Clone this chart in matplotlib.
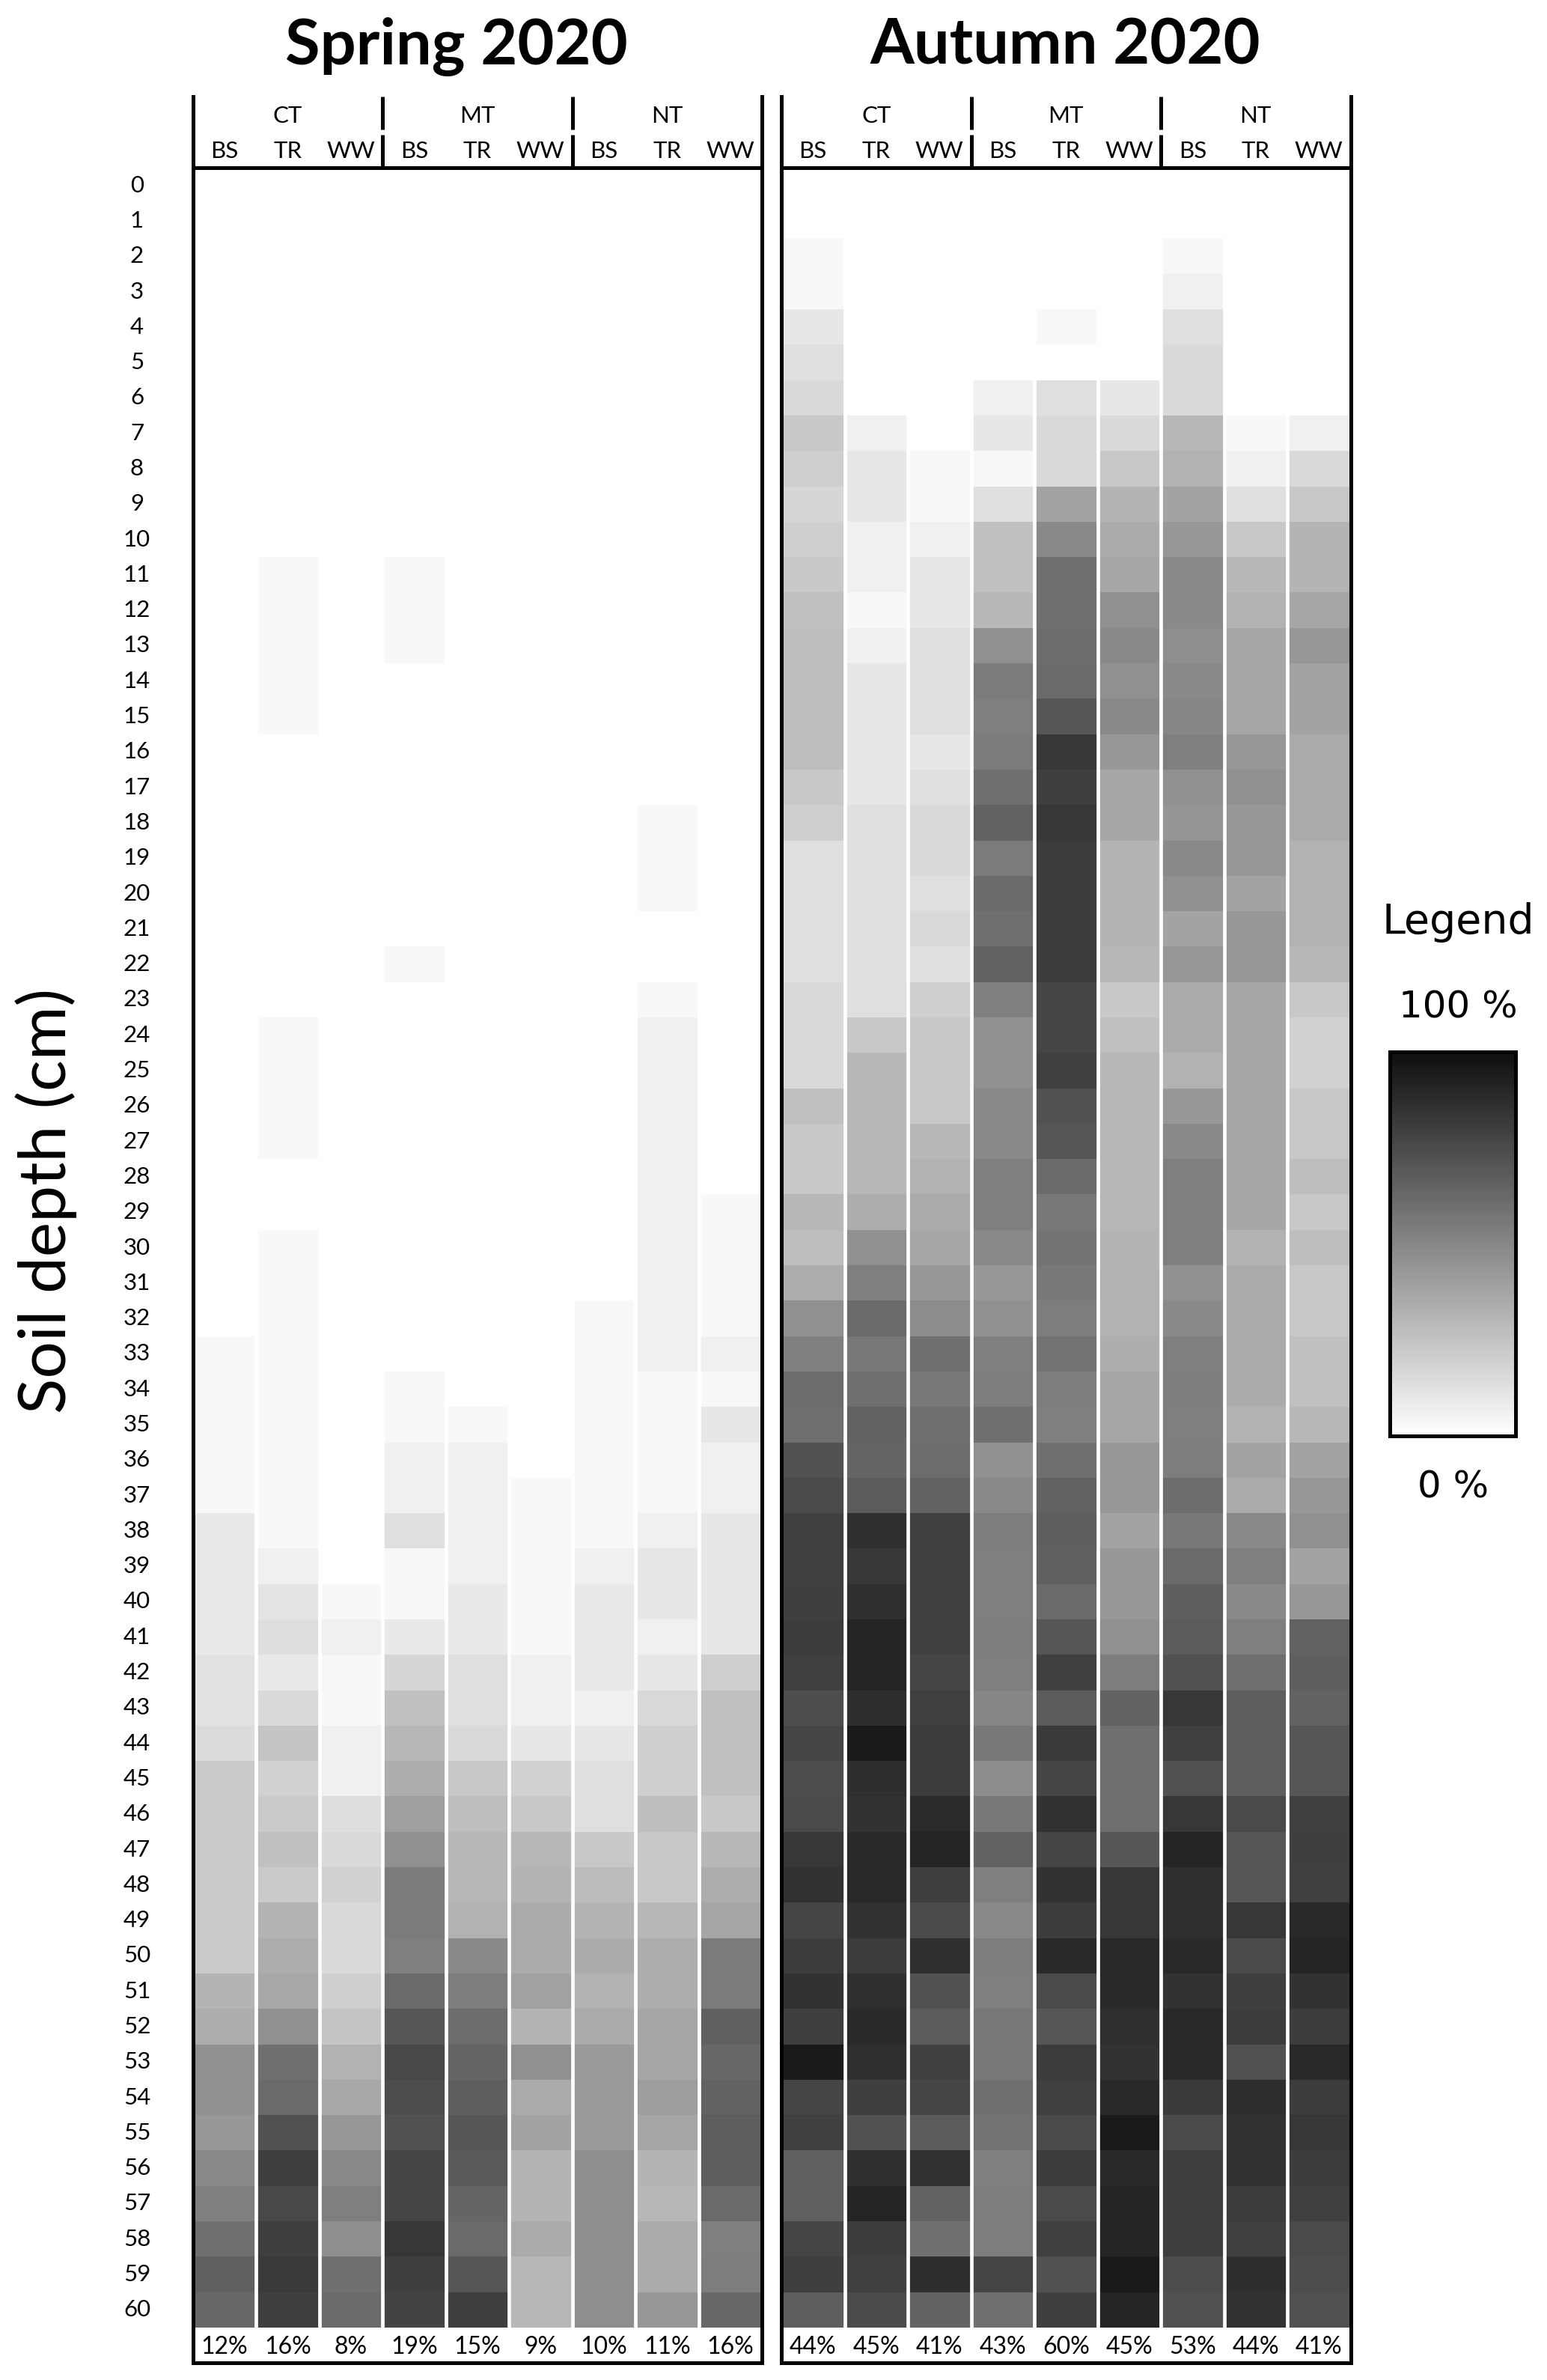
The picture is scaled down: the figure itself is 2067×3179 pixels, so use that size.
"""
Soil profile heatmaps, Spring vs Autumn 2020 (depth 0-60 cm).
Writes out.png (2067 x 3179 px).
"""

import matplotlib
matplotlib.use("Agg")
import matplotlib.pyplot as plt
import numpy as np
from matplotlib.colors import LinearSegmentedColormap

# ---------------------------------------------------------------------------
# Data (% per 1 cm layer, depth 0..60), one list per column
# ---------------------------------------------------------------------------

depths = list(range(61))
treatments = ["CT", "MT", "NT"]
positions = ["BS", "TR", "WW"]

# Spring 2020
sp_ct_bs = [0, 0, 0, 0, 0, 0, 0, 0, 0, 0,
            0, 0, 0, 0, 0, 0, 0, 0, 0, 0,
            0, 0, 0, 0, 0, 0, 0, 0, 0, 0,
            0, 0, 0, 3, 3, 3, 3, 3, 9, 9,
            9, 9, 12, 12, 15, 22, 22, 22, 22, 22,
            22, 31, 34, 46, 46, 43, 49, 53, 60, 66,
            63]
sp_ct_tr = [0, 0, 0, 0, 0, 0, 0, 0, 0, 0,
            0, 3, 3, 3, 3, 3, 0, 0, 0, 0,
            0, 0, 0, 0, 3, 3, 3, 3, 0, 0,
            3, 3, 3, 3, 3, 3, 3, 3, 3, 6,
            11, 14, 9, 16, 24, 19, 22, 26, 22, 31,
            34, 36, 46, 60, 62, 72, 80, 76, 80, 82,
            80]
sp_ct_ww = [0, 0, 0, 0, 0, 0, 0, 0, 0, 0,
            0, 0, 0, 0, 0, 0, 0, 0, 0, 0,
            0, 0, 0, 0, 0, 0, 0, 0, 0, 0,
            0, 0, 0, 0, 0, 0, 0, 0, 0, 0,
            3, 6, 3, 3, 6, 6, 14, 16, 19, 16,
            16, 20, 24, 32, 36, 43, 49, 53, 47, 60,
            62]
sp_mt_bs = [0, 0, 0, 0, 0, 0, 0, 0, 0, 0,
            0, 3, 3, 3, 0, 0, 0, 0, 0, 0,
            0, 0, 3, 0, 0, 0, 0, 0, 0, 0,
            0, 0, 0, 0, 3, 3, 6, 6, 13, 3,
            3, 9, 17, 26, 30, 34, 40, 46, 55, 55,
            53, 62, 70, 76, 74, 72, 77, 77, 83, 80,
            78]
sp_mt_tr = [0, 0, 0, 0, 0, 0, 0, 0, 0, 0,
            0, 0, 0, 0, 0, 0, 0, 0, 0, 0,
            0, 0, 0, 0, 0, 0, 0, 0, 0, 0,
            0, 0, 0, 0, 0, 3, 6, 6, 6, 6,
            9, 9, 13, 13, 16, 23, 27, 30, 30, 32,
            49, 54, 61, 64, 67, 70, 69, 64, 62, 70,
            80]
sp_mt_ww = [0, 0, 0, 0, 0, 0, 0, 0, 0, 0,
            0, 0, 0, 0, 0, 0, 0, 0, 0, 0,
            0, 0, 0, 0, 0, 0, 0, 0, 0, 0,
            0, 0, 0, 0, 0, 0, 0, 3, 3, 3,
            3, 3, 6, 6, 10, 19, 23, 30, 31, 35,
            35, 39, 31, 46, 35, 38, 31, 31, 35, 30,
            30]
sp_nt_bs = [0, 0, 0, 0, 0, 0, 0, 0, 0, 0,
            0, 0, 0, 0, 0, 0, 0, 0, 0, 0,
            0, 0, 0, 0, 0, 0, 0, 0, 0, 0,
            0, 0, 3, 3, 3, 3, 3, 3, 3, 6,
            9, 9, 9, 6, 10, 13, 13, 23, 28, 31,
            35, 32, 35, 42, 42, 42, 47, 47, 47, 47,
            47]
sp_nt_tr = [0, 0, 0, 0, 0, 0, 0, 0, 0, 0,
            0, 0, 0, 0, 0, 0, 0, 0, 3, 3,
            3, 0, 0, 3, 6, 6, 6, 6, 6, 6,
            6, 6, 6, 6, 3, 3, 3, 3, 6, 10,
            10, 6, 10, 16, 20, 20, 27, 23, 23, 30,
            34, 34, 37, 37, 41, 37, 31, 30, 35, 35,
            43]
sp_nt_ww = [0, 0, 0, 0, 0, 0, 0, 0, 0, 0,
            0, 0, 0, 0, 0, 0, 0, 0, 0, 0,
            0, 0, 0, 0, 0, 0, 0, 0, 0, 3,
            3, 3, 3, 6, 3, 10, 6, 6, 10, 10,
            10, 10, 20, 26, 26, 26, 23, 30, 34, 37,
            55, 55, 66, 63, 65, 67, 67, 62, 53, 54,
            63]

# Autumn 2020
au_ct_bs = [0, 0, 3, 3, 10, 13, 16, 23, 20, 17,
            20, 23, 26, 27, 27, 27, 27, 23, 20, 13,
            13, 13, 13, 16, 16, 16, 26, 23, 23, 30,
            27, 34, 46, 53, 61, 60, 72, 75, 79, 79,
            80, 81, 79, 74, 77, 74, 75, 83, 85, 77,
            81, 85, 80, 95, 77, 79, 66, 66, 77, 80,
            67]
au_ct_tr = [0, 0, 0, 0, 0, 0, 0, 6, 10, 10,
            6, 6, 3, 6, 10, 10, 10, 10, 13, 13,
            13, 13, 13, 13, 23, 30, 30, 30, 30, 34,
            46, 53, 62, 56, 60, 65, 64, 68, 86, 83,
            86, 91, 91, 87, 95, 87, 85, 89, 89, 85,
            81, 86, 89, 86, 80, 72, 86, 91, 81, 79,
            75]
au_ct_ww = [0, 0, 0, 0, 0, 0, 0, 0, 3, 3,
            6, 10, 10, 13, 13, 13, 10, 13, 16, 16,
            13, 16, 13, 20, 23, 23, 23, 30, 32, 35,
            37, 43, 48, 60, 56, 60, 61, 65, 79, 79,
            79, 79, 77, 79, 81, 81, 88, 91, 80, 75,
            86, 72, 68, 79, 77, 68, 85, 65, 60, 87,
            65]
au_mt_bs = [0, 0, 0, 0, 0, 0, 6, 10, 3, 13,
            26, 26, 30, 46, 55, 53, 55, 60, 65, 55,
            62, 60, 65, 53, 46, 46, 49, 49, 53, 53,
            49, 43, 46, 53, 54, 60, 46, 49, 54, 53,
            53, 54, 53, 50, 56, 48, 56, 65, 53, 49,
            54, 53, 56, 56, 60, 58, 53, 54, 54, 77,
            60]
au_mt_tr = [0, 0, 0, 0, 3, 0, 13, 16, 16, 38,
            49, 60, 60, 61, 62, 70, 83, 80, 83, 81,
            81, 81, 81, 77, 77, 79, 72, 70, 62, 56,
            58, 56, 54, 58, 54, 53, 60, 65, 67, 66,
            62, 70, 79, 68, 82, 77, 85, 77, 85, 81,
            89, 75, 70, 81, 79, 75, 81, 75, 79, 72,
            80]
au_mt_ww = [0, 0, 0, 0, 0, 0, 10, 16, 23, 31,
            35, 37, 46, 49, 46, 49, 43, 37, 37, 31,
            31, 31, 30, 23, 26, 30, 30, 30, 30, 30,
            31, 32, 32, 34, 37, 37, 43, 43, 38, 43,
            43, 46, 54, 65, 60, 60, 60, 70, 83, 83,
            89, 89, 86, 85, 89, 95, 89, 91, 91, 95,
            91]
au_nt_bs = [0, 0, 3, 6, 13, 16, 16, 30, 32, 38,
            43, 49, 49, 47, 49, 50, 53, 46, 44, 49,
            46, 38, 43, 35, 35, 32, 43, 49, 53, 53,
            53, 46, 49, 53, 54, 53, 54, 61, 56, 62,
            67, 68, 72, 83, 79, 72, 83, 91, 86, 86,
            89, 85, 89, 89, 82, 75, 80, 80, 80, 74,
            72]
au_nt_tr = [0, 0, 0, 0, 0, 0, 0, 3, 6, 13,
            23, 30, 32, 37, 37, 37, 43, 46, 43, 43,
            38, 43, 43, 37, 37, 37, 37, 37, 37, 37,
            32, 35, 35, 35, 35, 32, 38, 35, 49, 53,
            49, 53, 60, 67, 67, 67, 75, 70, 70, 83,
            75, 80, 81, 72, 87, 85, 85, 81, 79, 87,
            85]
au_nt_ww = [0, 0, 0, 0, 0, 0, 0, 6, 16, 23,
            31, 31, 37, 43, 38, 38, 35, 35, 35, 32,
            32, 32, 30, 23, 19, 19, 23, 23, 27, 23,
            27, 23, 23, 26, 26, 30, 38, 43, 46, 38,
            43, 65, 67, 65, 70, 70, 79, 80, 79, 89,
            91, 85, 81, 89, 81, 83, 81, 79, 75, 74,
            72]

spring_totals = [12, 16, 8, 19, 15, 9, 10, 11, 16]
autumn_totals = [44, 45, 41, 43, 60, 45, 53, 44, 41]

# ---------------------------------------------------------------------------
# Layout (pixel geometry of the 2067 x 3179 canvas)
# ---------------------------------------------------------------------------

W, H = 2067, 3179
HEADER_TOP, HEAT_TOP, HEAT_BOT, FRAME_BOT = 129, 224, 3109, 3156
ROW_H = (HEAT_BOT - HEAT_TOP) / 61
Y_TOP = -(HEAT_TOP - HEADER_TOP) / ROW_H
Y_BOT = 61 + (FRAME_BOT - HEAT_BOT) / ROW_H
GAP_TOP = -(HEAT_TOP - 173) / ROW_H
GAP_BOT = -(HEAT_TOP - 180) / ROW_H

LW = 3.6          # frame line width (pt)
SEP_LW = 3.4      # white column separators (pt)
LABEL_FONT = ["Lato", "DejaVu Sans"]

cmap = LinearSegmentedColormap.from_list("grey_ramp", ["#ffffff", "#0f0f0f"])

fig = plt.figure(figsize=(W / 100, H / 100), dpi=100)


def draw_panel(x0, x1, columns, totals, title, title_x, row_labels=False):
    ax = fig.add_axes([x0 / W, 1 - FRAME_BOT / H, (x1 - x0) / W,
                       (FRAME_BOT - HEADER_TOP) / H])
    grid = np.array(columns).T            # (61 depths, 9 columns)
    ax.imshow(grid, cmap=cmap, vmin=0, vmax=100, extent=(0, 9, 61, 0),
              aspect="auto", interpolation="nearest", zorder=1)
    ax.set_xlim(0, 9)
    ax.set_ylim(Y_BOT, Y_TOP)
    ax.axis("off")

    # white gaps between columns
    for c in range(1, 9):
        ax.plot([c, c], [0, 61], color="white", lw=SEP_LW, zorder=2,
                solid_capstyle="butt")

    # black frame + header dividers
    kw = dict(color="black", lw=LW, zorder=5, clip_on=False,
              solid_capstyle="projecting")
    ax.plot([0, 0], [Y_TOP, Y_BOT], **kw)
    ax.plot([9, 9], [Y_TOP, Y_BOT], **kw)
    ax.plot([0, 9], [Y_BOT, Y_BOT], **kw)
    ax.plot([0, 9], [0, 0], **kw)
    for g in (3, 6):
        ax.plot([g, g], [Y_TOP, GAP_TOP], color="black", lw=LW, zorder=5,
                clip_on=False, solid_capstyle="butt")
        ax.plot([g, g], [GAP_BOT, 0], color="black", lw=LW, zorder=5,
                clip_on=False, solid_capstyle="butt")

    for g, t in enumerate(treatments):
        ax.text(3 * g + 1.5, -(HEAT_TOP - 155) / ROW_H, t, ha="center",
                va="center", fontsize=22.5, family=LABEL_FONT)
    for c in range(9):
        ax.text(c + 0.5, -(HEAT_TOP - 202) / ROW_H, positions[c % 3],
                ha="center", va="center", fontsize=22.5, family=LABEL_FONT)
        ax.text(c + 0.5, 61 + (3135 - HEAT_BOT) / ROW_H, f"{totals[c]}%",
                ha="center", va="center", fontsize=23, family=LABEL_FONT)

    if row_labels:
        col_px = (x1 - x0) / 9
        lx = (183 - x0) / col_px
        for d in depths:
            ax.text(lx, d + 0.5, str(d), ha="center", va="center",
                    fontsize=22.5, family=LABEL_FONT, clip_on=False)

    fig.text(title_x / W, 1 - 85 / H, title, ha="center", va="baseline",
             fontsize=61, fontweight="bold", family=LABEL_FONT)
    return ax


draw_panel(257.5, 1018,
           [sp_ct_bs, sp_ct_tr, sp_ct_ww, sp_mt_bs, sp_mt_tr, sp_mt_ww,
            sp_nt_bs, sp_nt_tr, sp_nt_ww],
           spring_totals, "Spring 2020", 610, row_labels=True)
draw_panel(1044, 1804.5,
           [au_ct_bs, au_ct_tr, au_ct_ww, au_mt_bs, au_mt_tr, au_mt_ww,
            au_nt_bs, au_nt_tr, au_nt_ww],
           autumn_totals, "Autumn 2020", 1423)

fig.text(62 / W, 1 - 1604 / H, "Soil depth (cm)", rotation=90,
         ha="center", va="center", fontsize=63, family=LABEL_FONT)

# ---------------------------------------------------------------------------
# Legend gradient
# ---------------------------------------------------------------------------

cax = fig.add_axes([1857 / W, 1 - 1918 / H, 168 / W, 513 / H])
ramp = np.linspace(100, 0, 256).reshape(-1, 1)
cax.imshow(ramp, cmap=cmap, vmin=0, vmax=100, aspect="auto",
           extent=(0, 1, 0, 1))
cax.set_xticks([])
cax.set_yticks([])
for s in cax.spines.values():
    s.set_linewidth(LW)
    s.set_color("black")

fig.text(1948 / W, 1 - 1232 / H, "Legend", ha="center", va="center",
         fontsize=40, family="DejaVu Sans")
fig.text(1948 / W, 1 - 1346 / H, "100 %", ha="center", va="center",
         fontsize=36, family="DejaVu Sans")
fig.text(1942 / W, 1 - 1987 / H, "0 %", ha="center", va="center",
         fontsize=36, family="DejaVu Sans")

fig.savefig("out.png", dpi=100, facecolor="white")
